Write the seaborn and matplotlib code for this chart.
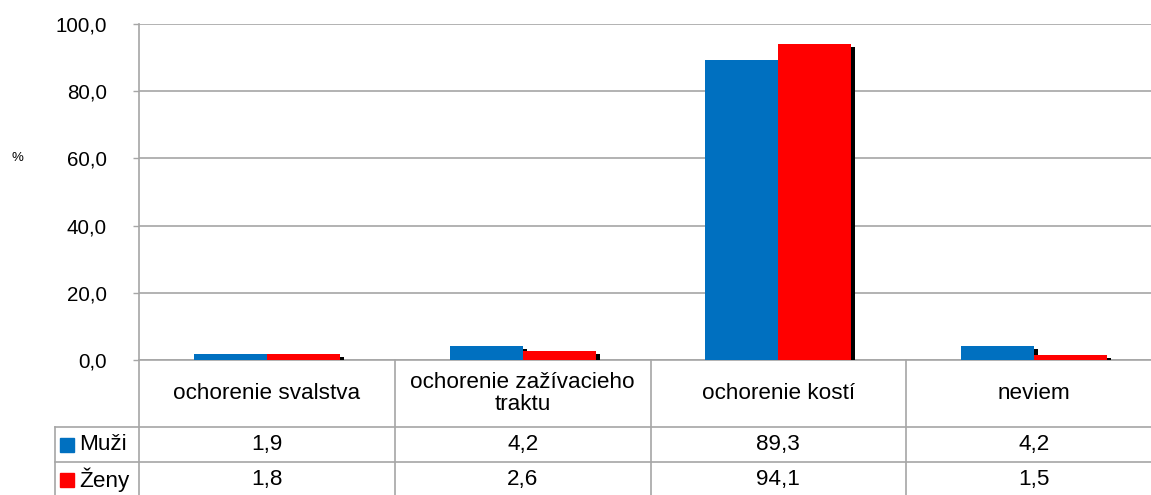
import pandas as pd
import matplotlib.pyplot as plt
import matplotlib.patheffects as pe
import seaborn as sns

# data
kategorie = ['ochorenie svalstva', 'ochorenie zažívacieho\ntraktu', 'ochorenie kostí', 'neviem']
muzi = [1.9, 4.2, 89.3, 4.2]
zeny = [1.8, 2.6, 94.1, 1.5]
skupiny = ['Muži', 'Ženy']
farby = ['#0070c0', '#ff0000']
y_ticks = [0, 20, 40, 60, 80, 100]

df = pd.DataFrame({
    'kategoria': kategorie * 2,
    'hodnota': muzi + zeny,
    'pohlavie': [skupiny[0]] * 4 + [skupiny[1]] * 4,
})

plt.rcParams['font.family'] = ['Liberation Sans', 'DejaVu Sans']
W, H = 1151, 495
fig = plt.figure(figsize=(W / 100, H / 100), dpi=100)
# plot area runs a bit past the right edge, like in the source
ax = fig.add_axes([139 / W, (H - 360) / H, (1162 - 139) / W, (360 - 24) / H])

sns.barplot(data=df, x='kategoria', y='hodnota', hue='pohlavie', palette=farby,
            width=0.57, gap=0, saturation=1, legend=False, ax=ax, zorder=3)

for p in ax.patches:
    p.set_path_effects([pe.SimplePatchShadow(offset=(2.9, -2.2), shadow_rgbFace='black', alpha=1),
                        pe.Normal()])

grid_c = '#a6a6a6'
fs_tab = 16.2
ax.set_xlim(-0.5, 3.5)
ax.set_ylim(0, 100)
ax.set_yticks(y_ticks)
ax.set_yticklabels([f'{v:.1f}'.replace('.', ',') for v in y_ticks], fontsize=14.8)
ax.set_xticks([])
ax.set_xlabel('')
ax.set_ylabel('')
ax.grid(axis='y', color=grid_c, linewidth=1.2, zorder=0)
ax.set_axisbelow(True)
ax.tick_params(axis='y', length=4.3, width=1, color=grid_c, pad=19)
for s in ['top', 'right']:
    ax.spines[s].set_visible(False)
for s in ['left', 'bottom']:
    ax.spines[s].set_color(grid_c)
    ax.spines[s].set_linewidth(1.2)

fig.text(17 / W, 1 - 158 / H, '%', fontsize=9.5, ha='center', va='center')

# data table under the plot (x in category units, y in axes fraction)
tr = ax.get_xaxis_transform()
px = 1 / 336  # one pixel of axes height
y_head = -(427 - 360) * px
y_m = -(462 - 360) * px
y_z = -(497 - 360) * px
x_left = (55 - 139) / 255.75 - 0.5

line_kw = dict(color=grid_c, linewidth=1.2, transform=tr, clip_on=False)
for i in range(4):
    ax.plot([i - 0.5, i - 0.5], [0, y_z], **line_kw)
ax.plot([x_left, x_left], [y_head, y_z], **line_kw)
ax.plot([x_left, 3.5], [y_head, y_head], **line_kw)
ax.plot([x_left, 3.5], [y_m, y_m], **line_kw)

for i, k in enumerate(kategorie):
    ax.text(i, (0 + y_head) / 2, k, transform=tr, ha='center', va='center',
            fontsize=fs_tab, linespacing=1.05)
    ax.text(i, (y_head + y_m) / 2, f'{muzi[i]:.1f}'.replace('.', ','), transform=tr,
            ha='center', va='center', fontsize=fs_tab)
    ax.text(i, (y_m + y_z) / 2, f'{zeny[i]:.1f}'.replace('.', ','), transform=tr,
            ha='center', va='center', fontsize=fs_tab)

for name, col, (y0, y1) in zip(skupiny, farby, [(y_head, y_m), (y_m, y_z)]):
    yc = (y0 + y1) / 2
    ax.plot([(67 - 139) / 255.75 - 0.5], [yc], marker='s', markersize=10.5, color=col,
            transform=tr, clip_on=False, linestyle='none')
    ax.text((79 - 139) / 255.75 - 0.5, yc, name, transform=tr, ha='left', va='center',
            fontsize=fs_tab)

fig.savefig('out.png', dpi=100)
